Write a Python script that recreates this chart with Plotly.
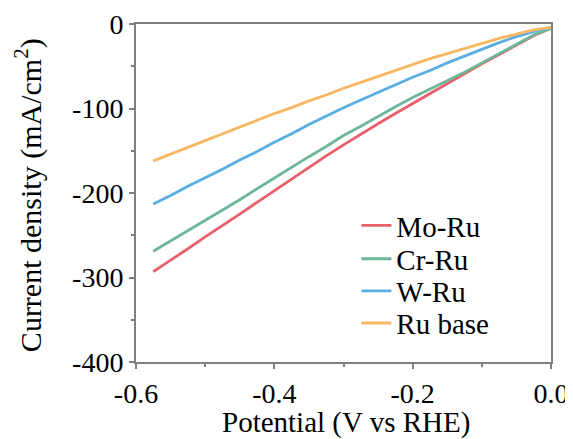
import plotly.graph_objects as go

potential = [-0.575, -0.55, -0.525, -0.5, -0.475, -0.45, -0.425, -0.4, -0.375, -0.35,
             -0.325, -0.3, -0.275, -0.25, -0.225, -0.2, -0.175, -0.15, -0.125, -0.1,
             -0.075, -0.05, -0.025, 0.0]

mo_ru = [-293, -280, -266, -252, -239, -225, -211, -197, -183, -169,
         -156, -143, -130, -118, -106, -94, -82, -70, -59, -47,
         -36, -25, -14, -5]
cr_ru = [-269, -257, -245, -233, -221, -208, -195, -182, -170, -157,
         -145, -132, -121, -109, -98, -87, -77, -67, -57, -46,
         -35, -24, -13, -5]
w_ru = [-213, -203, -192, -182, -172, -161, -151, -140, -130, -119,
        -109, -99, -90, -81, -72, -63, -55, -46, -38, -30,
        -22, -15, -9, -4]
ru_base = [-162, -154, -146, -138, -130, -122, -114, -106, -99, -91,
           -84, -76, -69, -62, -55, -48, -41, -35, -29, -23,
           -17, -12, -7, -4]

series_names = ["Mo-Ru", "Cr-Ru", "W-Ru", "Ru base"]
series_values = [mo_ru, cr_ru, w_ru, ru_base]
series_colors = ["#E9606A", "#6DB898", "#5AAEE2", "#F8B862"]

x_tickvals = [-0.6, -0.4, -0.2, 0.0]
x_ticktext = ["-0.6", "-0.4", "-0.2", "0.0"]
y_tickvals = [0, -100, -200, -300, -400]
y_ticktext = ["0", "-100", "-200", "-300", "-400"]

x_title = "Potential (V vs RHE)"
y_title = "Current density (mA/cm<sup>2</sup>)"

FONT = "'Times New Roman', 'Liberation Serif', Tinos, 'DejaVu Serif', serif"

fig = go.Figure()
legend_ids = ["legend", "legend2", "legend3", "legend4"]
for name, vals, col, lg in zip(series_names, series_values, series_colors, legend_ids):
    fig.add_trace(go.Scatter(x=potential, y=vals, mode="lines", name=name, legend=lg,
                             line=dict(color=col, width=2.8)))

axis_common = dict(showgrid=False, zeroline=False, showline=True, linecolor="#808080",
                   linewidth=2, mirror=True, ticks="outside", ticklen=5, tickwidth=2,
                   tickcolor="#808080", automargin=False,
                   tickfont=dict(family=FONT, size=28, color="black"))

fig.update_xaxes(range=[-0.6, 0.0], tickvals=x_tickvals, ticktext=x_ticktext,
                 minor=dict(ticks="outside", ticklen=3, tickwidth=2, tickcolor="#808080", dtick=0.1, tick0=0),
                 **axis_common)
fig.update_yaxes(range=[-400, 0], tickvals=y_tickvals, ticktext=y_ticktext,
                 minor=dict(ticks="outside", ticklen=3, tickwidth=2, tickcolor="#808080", dtick=50, tick0=0),
                 **axis_common)

fig.add_annotation(text=x_title, xref="paper", yref="paper", x=0.506, y=-0.18,
                   xanchor="center", yanchor="middle", showarrow=False,
                   font=dict(family=FONT, size=29, color="black"))
fig.add_annotation(text=y_title, xref="paper", yref="paper", x=-0.26, y=0.494,
                   xanchor="center", yanchor="middle", showarrow=False, textangle=-90,
                   font=dict(family=FONT, size=30, color="black"))

legend_ys = [0.4035, 0.305, 0.21, 0.115]
legend_style = dict(x=0.531, xanchor="left", yanchor="middle", bgcolor="rgba(0,0,0,0)",
                    font=dict(family=FONT, size=29, color="black"))

# page body has an 8px default margin, so the figure is offset by 8px
fig.update_layout(
    width=565, height=431,
    margin=dict(l=128, r=22, t=16, b=77),
    paper_bgcolor="white", plot_bgcolor="white",
    showlegend=True,
    legend=dict(y=legend_ys[0], **legend_style),
    legend2=dict(y=legend_ys[1], **legend_style),
    legend3=dict(y=legend_ys[2], **legend_style),
    legend4=dict(y=legend_ys[3], **legend_style),
)

fig.write_html("out.html")
